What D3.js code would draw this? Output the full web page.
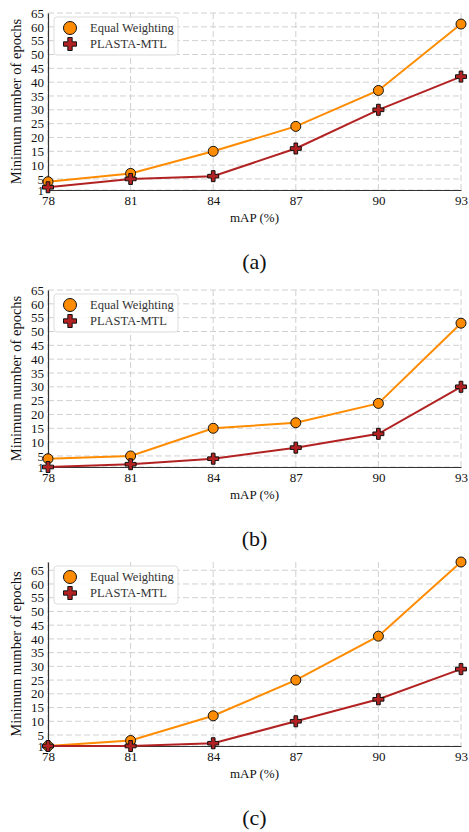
<!DOCTYPE html>
<html>
<head>
<meta charset="utf-8">
<script src="https://cdn.jsdelivr.net/npm/d3@7"></script>
<style>
  body { margin: 0; background: #fff; }
  svg text { font-family: "Liberation Serif", "DejaVu Serif", serif; }
</style>
</head>
<body>
<div id="chart"></div>
<script>
// data
var mapValues = [78, 81, 84, 87, 90, 93];
var yTicks = [1, 5, 10, 15, 20, 25, 30, 35, 40, 45, 50, 55, 60, 65];
var seriesNames = ["Equal Weighting", "PLASTA-MTL"];
var panelLabels = ["(a)", "(b)", "(c)"];

var ewA = [4, 7, 15, 24, 37, 61];
var plA = [2, 5, 6, 16, 30, 42];
var ewB = [4, 5, 15, 17, 24, 53];
var plB = [1, 2, 4, 8, 13, 30];
var ewC = [1, 3, 12, 25, 41, 68];
var plC = [1, 1, 2, 10, 18, 29];
var yMaxes = [65, 65, 68];

var W = 469, H = 832;
var svg = d3.select("#chart").append("svg")
    .attr("width", W)
    .attr("height", H);

// plot area (top, bottom) for each panel
var panels = [
    { top: 13, bottom: 190, ew: ewA, pl: plA },
    { top: 290, bottom: 467, ew: ewB, pl: plB },
    { top: 562, bottom: 746, ew: ewC, pl: plC }
];
var left = 48, right = 461;

var orange = "#ff8c00", red = "#b22222";

// filled plus shape, like matplotlib's "P"
function plusPath(s) {
    var a = s / 2, b = s / 6;
    return "M" + (-b) + "," + (-a) + "H" + b + "V" + (-b) + "H" + a + "V" + b + "H" + b +
        "V" + a + "H" + (-b) + "V" + b + "H" + (-a) + "V" + (-b) + "H" + (-b) + "Z";
}

panels.forEach(function(p, i) {
    var g = svg.append("g");

    var x = d3.scaleLinear().domain([78, 93]).range([left, right]);
    var y = d3.scaleLinear().domain([1, yMaxes[i]]).range([p.bottom, p.top]);

    // grid
    g.selectAll(".hgrid").data(yTicks).enter().append("line")
        .attr("x1", left).attr("x2", right)
        .attr("y1", function(d) { return y(d); })
        .attr("y2", function(d) { return y(d); })
        .attr("stroke", "#d0d0d0")
        .attr("stroke-width", 1)
        .attr("stroke-dasharray", "6,3");
    g.selectAll(".vgrid").data(mapValues).enter().append("line")
        .attr("y1", p.top).attr("y2", p.bottom)
        .attr("x1", function(d) { return x(d); })
        .attr("x2", function(d) { return x(d); })
        .attr("stroke", "#d0d0d0")
        .attr("stroke-width", 1)
        .attr("stroke-dasharray", "6,3");

    // axes
    var xAxis = g.append("g")
        .attr("transform", "translate(0," + p.bottom + ")")
        .call(d3.axisBottom(x).tickValues(mapValues).tickSize(0).tickPadding(6).tickFormat(d3.format("d")));
    var yAxis = g.append("g")
        .attr("transform", "translate(" + left + ",0)")
        .call(d3.axisLeft(y).tickValues(yTicks).tickSize(0).tickPadding(4));
    [xAxis, yAxis].forEach(function(ax) {
        ax.select(".domain").attr("stroke", "#333").attr("stroke-width", 1.2);
        ax.selectAll("text").attr("font-size", 13).attr("fill", "#111")
            .style("font-family", "'Liberation Serif', serif");
    });

    // axis titles
    g.append("text")
        .attr("x", (left + right) / 2)
        .attr("y", p.bottom + 32)
        .attr("text-anchor", "middle")
        .attr("font-size", 13)
        .attr("fill", "#111")
        .text("mAP (%)");
    g.append("text")
        .attr("transform", "translate(21," + ((p.top + p.bottom) / 2) + ") rotate(-90)")
        .attr("text-anchor", "middle")
        .attr("font-size", 14.5)
        .attr("fill", "#111")
        .text("Minimum number of epochs");

    // panel label
    g.append("text")
        .attr("x", (left + right) / 2)
        .attr("y", p.bottom + 79)
        .attr("text-anchor", "middle")
        .attr("font-size", 22)
        .attr("fill", "#111")
        .text(panelLabels[i]);

    var line = d3.line()
        .x(function(d, k) { return x(mapValues[k]); })
        .y(function(d) { return y(d); });

    g.append("path").datum(p.ew)
        .attr("d", line).attr("fill", "none")
        .attr("stroke", orange).attr("stroke-width", 2);
    g.append("path").datum(p.pl)
        .attr("d", line).attr("fill", "none")
        .attr("stroke", red).attr("stroke-width", 2);

    g.selectAll(".ew").data(p.ew).enter().append("circle")
        .attr("cx", function(d, k) { return x(mapValues[k]); })
        .attr("cy", function(d) { return y(d); })
        .attr("r", 5)
        .attr("fill", orange)
        .attr("stroke", "#111")
        .attr("stroke-width", 1);
    g.selectAll(".pl").data(p.pl).enter().append("path")
        .attr("transform", function(d, k) { return "translate(" + x(mapValues[k]) + "," + y(d) + ")"; })
        .attr("d", plusPath(11))
        .attr("fill", red)
        .attr("stroke", "#111")
        .attr("stroke-width", 1);

    // legend
    var lg = g.append("g").attr("transform", "translate(54," + (p.top + 4) + ")");
    lg.append("rect")
        .attr("width", 124).attr("height", 38)
        .attr("rx", 3)
        .attr("fill", "#fff").attr("fill-opacity", 0.85)
        .attr("stroke", "#ddd");
    lg.append("circle").attr("cx", 16).attr("cy", 11).attr("r", 6.5)
        .attr("fill", orange).attr("stroke", "#111").attr("stroke-width", 1);
    lg.append("path").attr("transform", "translate(16,27)").attr("d", plusPath(13))
        .attr("fill", red).attr("stroke", "#111").attr("stroke-width", 1);
    lg.selectAll(".lt").data(seriesNames).enter().append("text")
        .attr("x", 36)
        .attr("y", function(d, k) { return 15 + k * 16; })
        .attr("font-size", 12.5)
        .attr("fill", "#333")
        .text(function(d) { return d; });
});
</script>
</body>
</html>
